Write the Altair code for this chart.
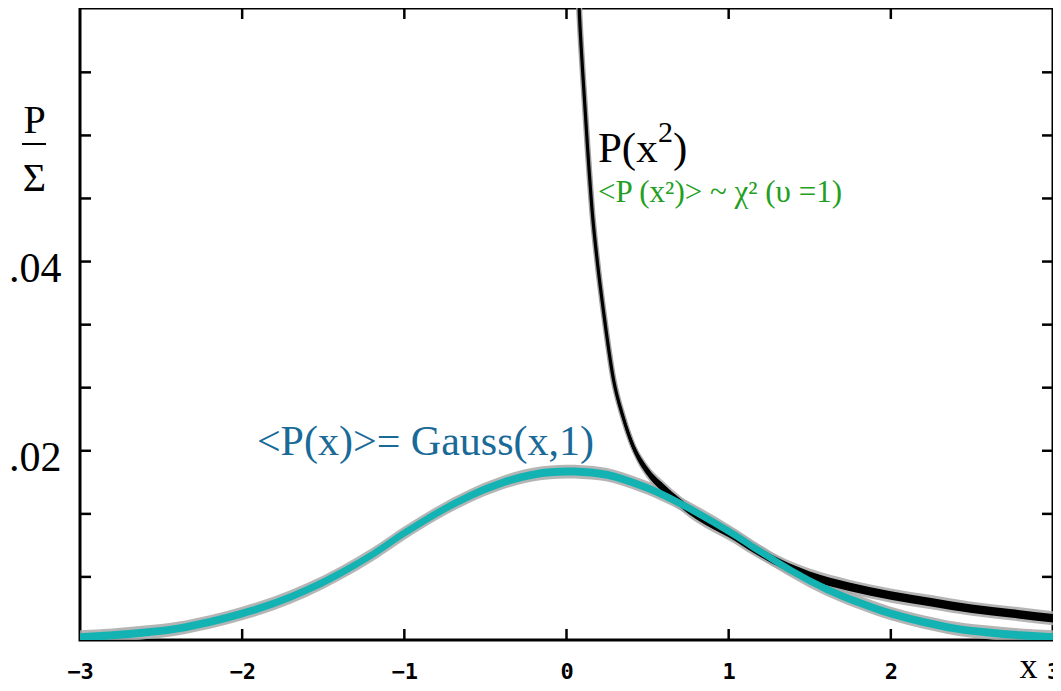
import altair as alt
import pandas as pd

# ---- data ----
gauss_x = [-3.0, -2.8, -2.6, -2.4, -2.2, -2.0, -1.8, -1.6, -1.4, -1.2, -1.0, -0.8, -0.6, -0.4, -0.2,
           0.0, 0.2, 0.4, 0.6, 0.8, 1.0, 1.2, 1.4, 1.6, 1.8, 2.0, 2.2, 2.4, 2.6, 2.8, 3.0]
gauss_y = [0.0003, 0.0005, 0.0008, 0.0012, 0.0019, 0.0028, 0.0039, 0.0053, 0.0070, 0.0090, 0.0113,
           0.0134, 0.0152, 0.0166, 0.0175, 0.0178, 0.0176, 0.0167, 0.0153, 0.0135, 0.0115, 0.0093,
           0.0072, 0.0054, 0.0040, 0.0028, 0.0019, 0.0012, 0.0008, 0.0005, 0.0003]

chi_x = [0.05, 0.08, 0.10, 0.13, 0.16, 0.19, 0.23, 0.29, 0.35, 0.41, 0.5, 0.6, 0.7, 0.8, 0.9, 1.0,
         1.15, 1.33, 1.5, 1.75, 2.0, 2.25, 2.5, 2.75, 3.0]
chi_y = [0.080, 0.066, 0.060, 0.052, 0.045, 0.040, 0.0345, 0.0275, 0.0235, 0.0205, 0.0178, 0.0160,
         0.0145, 0.0132, 0.0122, 0.0113, 0.0097, 0.0080, 0.0068, 0.0056, 0.0047, 0.0040, 0.0033,
         0.0028, 0.0023]

x_ticks = [-3, -2, -1, 0, 1, 2, 3]
x_inner_ticks = [-2, -1, 0, 1, 2]
y_ticks = [0.00667, 0.01333, 0.02, 0.02667, 0.03333, 0.04, 0.04667, 0.05333, 0.06]
y_labels = [0.02, 0.04]

ann_px_x = [0.194]
ann_px_y = [0.0505]
ann_green_x = [0.194]
ann_green_y = [0.0463]
ann_green_text = ["<P (x²)> ~ χ² (υ =1)"]
ann_blue_x = [-1.909]
ann_blue_y = [0.01955]
ann_blue_text = ["<P(x)>= Gauss(x,1)"]

W, H = 973, 632
SERIF = "Liberation Serif"

xs = alt.Scale(domain=[-3, 3], nice=False, zero=False)
ys = alt.Scale(domain=[0, 0.0668], nice=False, zero=False)

gdf = pd.DataFrame({"x": gauss_x, "y": gauss_y})
cdf = pd.DataFrame({"x": chi_x, "y": chi_y})

x_axis = alt.Axis(values=x_ticks, ticks=False, domain=False, grid=False, labelFlush=False,
                  labelFont="DejaVu Sans Mono", labelFontWeight="bold", labelFontSize=22,
                  labelPadding=21, labelColor="black",
                  title="x", titleFont=SERIF, titleFontSize=36, titleFontWeight="normal",
                  titleX=948, titleY=37, titleAlign="center", titleBaseline="alphabetic",
                  titleColor="black")
y_axis = alt.Axis(values=y_labels, ticks=False, domain=False, grid=False,
                  labelExpr="replace(format(datum.value, '.2f'), '0.', '.')",
                  labelFont=SERIF, labelFontSize=42, labelPadding=19, labelBaseline="middle",
                  labelOffset=7, labelColor="black",
                  title=["P", "Σ"], titleAngle=0, titleFont=SERIF, titleFontSize=40,
                  titleFontWeight="normal", titleX=-46, titleY=124, titleAlign="center",
                  titleBaseline="alphabetic", titleLineHeight=58, titleColor="black")

def X(field):
    return alt.X(field, scale=xs, axis=x_axis)

def Y(field):
    return alt.Y(field, scale=ys, axis=y_axis)

def band(df, half, color, opacity=1.0):
    return (alt.Chart(df)
            .transform_calculate(lo=f"datum.y - {half}", hi=f"datum.y + {half}")
            .mark_area(color=color, opacity=opacity, clip=True, interpolate="monotone")
            .encode(x=X("x:Q"), y=Y("lo:Q"), y2="hi:Q"))

def line(df, color, width):
    return (alt.Chart(df)
            .mark_line(color=color, strokeWidth=width, clip=True, interpolate="monotone")
            .encode(x=X("x:Q"), y=Y("y:Q")))

g_gray = band(gdf, 0.00072, "#a8a8a8", 0.85)
c_gray = band(cdf, 0.00075, "#a8a8a8", 0.85)
c_gray_line = line(cdf, "#a0a0a0", 6)
c_band = band(cdf, 0.00045, "black")
c_line = line(cdf, "black", 3.2)
g_band = band(gdf, 0.00042, "#14b3b3")

tx = pd.DataFrame({"v": x_inner_ticks})
ty = pd.DataFrame({"v": y_ticks})
tick_style = dict(color="black", strokeWidth=2.5)
t_bottom = alt.Chart(tx).mark_rule(**tick_style).encode(
    x=X("v:Q"), y=alt.value(H - 11), y2=alt.value(H))
t_top = alt.Chart(tx).mark_rule(**tick_style).encode(
    x=X("v:Q"), y=alt.value(0), y2=alt.value(11))
t_left = alt.Chart(ty).mark_rule(**tick_style).encode(
    y=Y("v:Q"), x=alt.value(0), x2=alt.value(11))
t_right = alt.Chart(ty).mark_rule(**tick_style).encode(
    y=Y("v:Q"), x=alt.value(W - 11), x2=alt.value(W))

frac_bar = alt.Chart(pd.DataFrame({"a": [0]})).mark_rule(color="black", strokeWidth=2).encode(
    x=alt.value(-58), x2=alt.value(-34), y=alt.value(136))

pdf = pd.DataFrame({"x": ann_px_x, "y": ann_px_y})
def txt(df, text, size, color, dx=0, dy=0):
    return alt.Chart(df).mark_text(text=text, font=SERIF, fontSize=size, color=color,
                                   align="left", baseline="alphabetic", dx=dx, dy=dy).encode(
        x=X("x:Q"), y=Y("y:Q"))

p1 = txt(pdf, "P(x", 43, "black")
p2 = txt(pdf, "2", 30, "black", dx=60, dy=-20)
p3 = txt(pdf, ")", 43, "black", dx=75)

green = txt(pd.DataFrame({"x": ann_green_x, "y": ann_green_y}), ann_green_text[0], 31, "#22a022")
blue = txt(pd.DataFrame({"x": ann_blue_x, "y": ann_blue_y}), ann_blue_text[0], 42, "#1a6a98")

chart = alt.layer(
    g_gray, c_gray, c_gray_line, c_band, c_line, g_band,
    t_bottom, t_top, t_left, t_right, frac_bar,
    p1, p2, p3, green, blue,
).properties(
    width=W, height=H,
    autosize=alt.AutoSizeParams(type="none"),
    padding={"left": 72, "top": 0, "right": 0, "bottom": 43},
    background="white",
).configure_view(stroke="black", strokeWidth=3)

chart.save("out.html", embed_options={"renderer": "svg", "actions": False})
